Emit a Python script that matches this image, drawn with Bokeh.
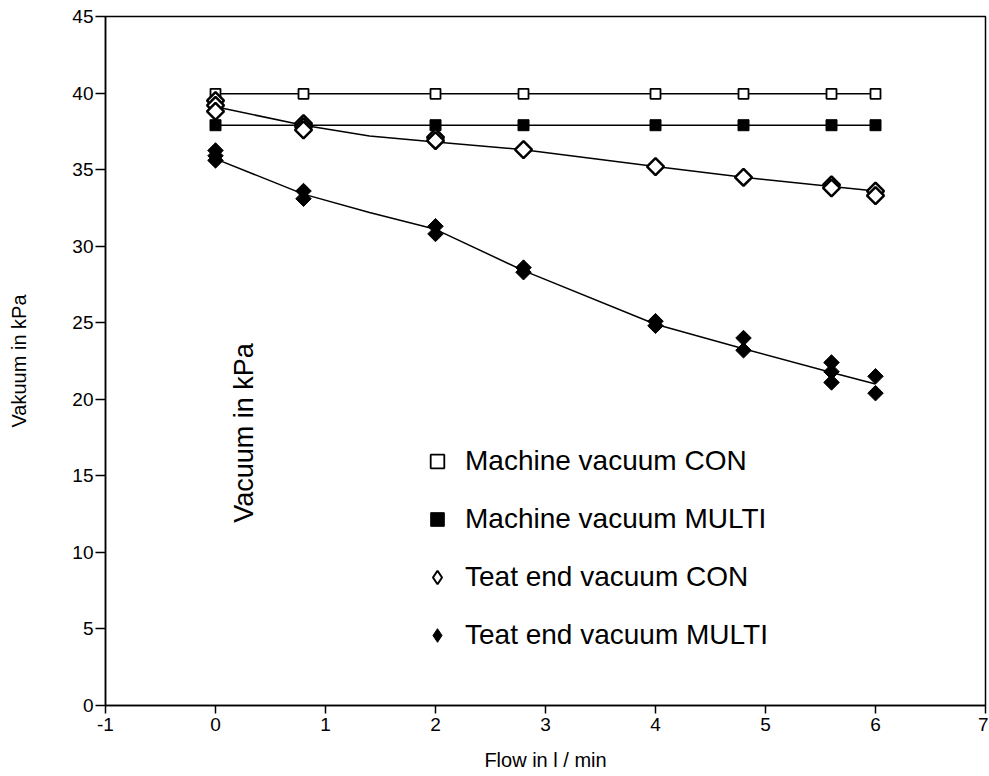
import numpy as np
from bokeh.plotting import figure
from bokeh.models import Range1d, FixedTicker, Legend, LegendItem, Label
from bokeh.embed import file_html
from bokeh.resources import INLINE

# ---- data ----
flow = [0, 0.8, 2, 2.8, 4, 4.8, 5.6, 6]
machine_con = [39.95, 39.95, 39.95, 39.95, 39.95, 39.95, 39.95, 39.95]
machine_multi = [37.9, 37.9, 37.9, 37.9, 37.9, 37.9, 37.9, 37.9]

teat_con_x = [0, 0, 0, 0.8, 0.8, 0.8, 2, 2, 2.8, 4, 4.8, 5.6, 5.6, 6, 6]
teat_con_y = [39.5, 39.2, 38.8, 38.0, 37.8, 37.6, 37.1, 36.9, 36.3, 35.2, 34.5, 34.0, 33.8, 33.6, 33.3]

teat_multi_x = [0, 0, 0, 0.8, 0.8, 2, 2, 2.8, 2.8, 4, 4, 4.8, 4.8, 5.6, 5.6, 5.6, 6, 6]
teat_multi_y = [36.25, 35.9, 35.6, 33.6, 33.1, 31.3, 30.8, 28.6, 28.3, 25.1, 24.8, 24.0, 23.2, 22.4, 21.8, 21.1, 21.5, 20.4]

fit_x = [0, 0.8, 1.4, 2, 2.8, 4, 4.8, 5.6, 6]
teat_con_fit = [39.1, 37.9, 37.2, 36.8, 36.3, 35.2, 34.5, 33.9, 33.6]
teat_multi_fit = [35.7, 33.4, 32.2, 31.1, 28.4, 24.9, 23.3, 21.75, 21.0]

x_ticks = [-1, 0, 1, 2, 3, 4, 5, 6, 7]
y_ticks = [0, 5, 10, 15, 20, 25, 30, 35, 40, 45]

labels = ["Machine vacuum CON", "Machine vacuum MULTI",
          "Teat end vacuum CON", "Teat end vacuum MULTI"]

FONT = "Liberation Sans"

p = figure(width=988, height=775, output_backend="svg", toolbar_location=None,
           x_range=Range1d(-1, 7), y_range=Range1d(0, 45),
           min_border_left=105, min_border_right=3, min_border_top=16, min_border_bottom=70)

p.grid.visible = False
p.outline_line_color = "black"
p.outline_line_width = 1.5
p.background_fill_color = "white"
p.border_fill_color = "white"

for ax in (p.xaxis[0], p.yaxis[0]):
    ax.axis_line_color = "black"
    ax.axis_line_width = 1.5
    ax.major_tick_line_color = "black"
    ax.major_tick_line_width = 1.5
    ax.major_tick_in = 0
    ax.minor_tick_line_color = None
    ax.major_label_text_font = FONT
    ax.major_label_text_font_size = "19px"
    ax.major_label_text_color = "black"
    ax.axis_label_text_font = FONT
    ax.axis_label_text_font_size = "20px"
    ax.axis_label_text_font_style = "normal"
    ax.axis_label_text_color = "black"

p.xaxis.ticker = FixedTicker(ticks=x_ticks)
p.yaxis.ticker = FixedTicker(ticks=y_ticks)
p.xaxis.major_label_overrides = {-1: "-1"}
p.xaxis.major_tick_out = 8
p.yaxis.major_tick_out = 10
p.xaxis.major_label_standoff = 4
p.yaxis.major_label_standoff = 2
p.xaxis.axis_label = "Flow in l / min"
p.yaxis.axis_label = "Vakuum in kPa"
p.xaxis.axis_label_standoff = 15
p.yaxis.axis_label_standoff = 39

# lines
p.line(flow, machine_con, line_color="black", line_width=1.5)
p.line(flow, machine_multi, line_color="black", line_width=1.5)
p.line(fit_x, teat_con_fit, line_color="black", line_width=1.5)
p.line(fit_x, teat_multi_fit, line_color="black", line_width=1.5)

# markers
r1 = p.scatter(flow, machine_con, marker="square", size=10, fill_color="white",
               line_color="black", line_width=1.8)
r2 = p.scatter(flow, machine_multi, marker="square", size=11, fill_color="black",
               line_color="black", line_width=1)

# small diamond renderers (hidden under the larger markers) that give the legend its diamonds
r3 = p.scatter(teat_con_x, teat_con_y, marker="diamond", size=3, fill_color="white",
               line_color="black", line_width=2)
r4 = p.scatter(teat_multi_x, teat_multi_y, marker="diamond", size=3, fill_color="black",
               line_color="black", line_width=1)

p.scatter(teat_con_x, teat_con_y, marker="square", angle=np.pi / 4, size=12,
          fill_color="white", line_color="black", line_width=2.5)
p.scatter(teat_multi_x, teat_multi_y, marker="square", angle=np.pi / 4, size=11,
          fill_color="black", line_color="black", line_width=1)

legend = Legend(items=[LegendItem(label=labels[0], renderers=[r1]),
                       LegendItem(label=labels[1], renderers=[r2]),
                       LegendItem(label=labels[2], renderers=[r3]),
                       LegendItem(label=labels[3], renderers=[r4])],
                location=(315, 53), border_line_color=None, background_fill_alpha=0,
                label_text_font=FONT, label_text_font_size="28px",
                label_text_color="black",
                glyph_width=34, glyph_height=34, label_height=34,
                spacing=24, label_standoff=11, padding=0, margin=0)
p.add_layout(legend)

p.add_layout(Label(x=0.255, y=17.8, text="Vacuum in kPa", angle=np.pi / 2,
                   text_align="center", text_baseline="middle",
                   text_font=FONT, text_font_size="27px", text_color="black"))

open("out.html", "w").write(file_html(p, INLINE))
